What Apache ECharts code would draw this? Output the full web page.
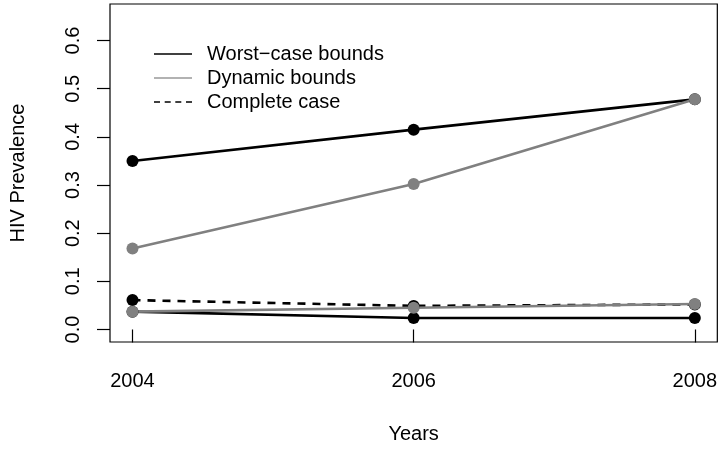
<!DOCTYPE html>
<html>
<head>
<meta charset="utf-8">
<script src="https://cdn.jsdelivr.net/npm/echarts@6/dist/echarts.min.js"></script>
<style>html,body{margin:0;padding:0;background:#fff;}#c{width:720px;height:449px;}</style>
</head>
<body>
<div id="c"></div>
<script>
var years = [2004, 2006, 2008];
var worstUpper = [0.350, 0.415, 0.478];
var worstLower = [0.037, 0.024, 0.024];
var dynamicUpper = [0.168, 0.302, 0.478];
var dynamicLower = [0.037, 0.045, 0.053];
var completeCase = [0.061, 0.049, 0.052];
var yTicks = [0, 0.1, 0.2, 0.3, 0.4, 0.5, 0.6];
var xTicks = [2004, 2006, 2008];
var legendNames = ['Worst\u2212case bounds', 'Dynamic bounds', 'Complete case'];

function pts(vals) { return years.map(function (y, i) { return [y, vals[i]]; }); }

var FONT = 'Liberation Sans, Arial, Helvetica, sans-serif';
var BLACK = '#000000', GREY = '#808080';

function lineSeries(name, vals, color, dashed) {
  return {
    name: name, type: 'line', data: pts(vals),
    symbol: 'circle', symbolSize: 12,
    itemStyle: { color: color },
    lineStyle: { color: color, width: 2.6, type: dashed ? [8, 7] : 'solid' },
    emphasis: { disabled: true }, animation: false
  };
}

var chart = echarts.init(document.getElementById('c'), null, { renderer: 'canvas' });
chart.setOption({
  animation: false,
  backgroundColor: '#fff',
  grid: { left: 108, right: 2, top: 4, bottom: 105, show: true, borderColor: '#000', borderWidth: 1.2, backgroundColor: 'transparent' },
  legend: {
    orient: 'vertical', left: 149, top: 39, itemWidth: 38, itemHeight: 1.5, itemGap: 4,
    textStyle: { fontFamily: FONT, fontSize: 20, color: '#000', padding: [0, 0, 0, 10] },
    selectedMode: false,
    data: [
      { name: legendNames[0], icon: 'path://M0,0h38v1.5h-38z', itemStyle: { color: BLACK } },
      { name: legendNames[1], icon: 'path://M0,0h38v1.5h-38z', itemStyle: { color: '#999999' } },
      { name: legendNames[2], icon: 'path://M0,0h6v1.5h-6z M10.7,0h6v1.5h-6z M21.3,0h6v1.5h-6z M32,0h6v1.5h-6z', itemStyle: { color: BLACK } }
    ]
  },
  xAxis: {
    type: 'value', min: 2003.84, max: 2008.16,
    name: 'Years', nameLocation: 'middle', nameGap: 82,
    nameTextStyle: { fontFamily: FONT, fontSize: 20, color: '#000', verticalAlign: 'top' },
    axisLine: { show: false },
    axisTick: { show: true, length: 13, lineStyle: { color: '#000', width: 1.2 }, customValues: xTicks },
    axisLabel: { fontFamily: FONT, fontSize: 20, color: '#000', margin: 29, customValues: xTicks, formatter: function (v) { return String(v); } },
    splitLine: { show: false }
  },
  yAxis: {
    type: 'value', min: -0.026, max: 0.676,
    name: 'HIV Prevalence', nameLocation: 'middle', nameGap: 82, nameRotate: 90,
    nameTextStyle: { fontFamily: FONT, fontSize: 20, color: '#000' },
    axisLine: { show: false },
    axisTick: { show: true, length: 13, lineStyle: { color: '#000', width: 1.2 }, customValues: yTicks },
    axisLabel: { fontFamily: FONT, fontSize: 20, color: '#000', rotate: 90, margin: 27, customValues: yTicks, formatter: function (v) { return v.toFixed(1); } },
    splitLine: { show: false }
  },
  series: [
    lineSeries(legendNames[0], worstUpper, BLACK, false),
    lineSeries(legendNames[0], worstLower, BLACK, false),
    lineSeries(legendNames[2], completeCase, BLACK, true),
    lineSeries(legendNames[1], dynamicUpper, GREY, false),
    lineSeries(legendNames[1], dynamicLower, GREY, false)
  ]
});
</script>
</body>
</html>
